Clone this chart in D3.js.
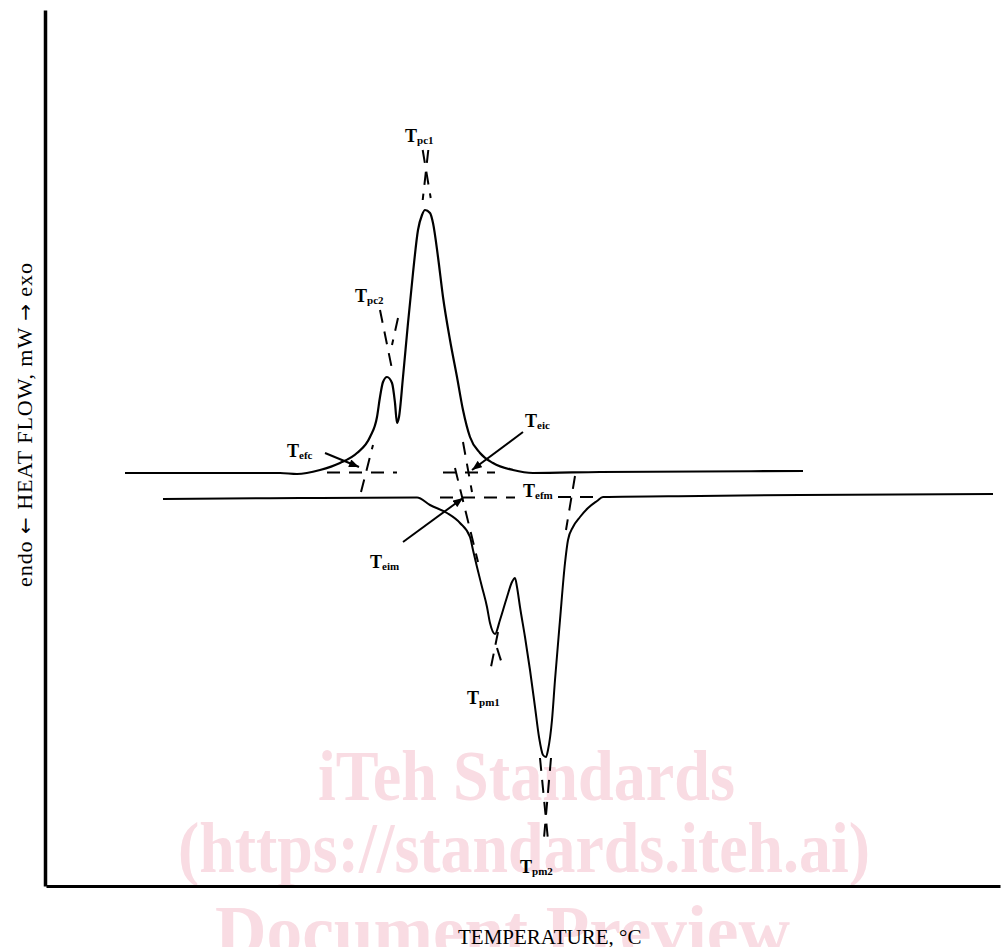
<!DOCTYPE html>
<html><head><meta charset="utf-8">
<script src="https://cdn.jsdelivr.net/npm/d3@7"></script>
<style>body{margin:0;background:#fff}svg{display:block}</style>
</head><body>
<svg id="chart" width="1004" height="947"></svg>
<script>
// ---- data (temperature units, heat-flow units; arbitrary, no tick scale shown) ----
const xDomain = [0, 95.4];
const yDomain = [-43.8, 43.8];

// cooling (crystallization, exo up)
const coolingTemp = [7.9,15.4,23.4,25.1,27.4,29.4,31.1,32.4,33.1,33.4,33.7,34.1,34.6,34.9,35.1,35.3,35.7,36.2,36.7,37.2,37.6,37.9,38.4,38.7,39.2,39.7,40.4,41.1,41.7,42.4,43.4,44.7,46.7,48.7,55.4,65.4,75.7];
const coolingFlow = [-2.5,-2.5,-2.5,-2.6,-2.2,-1.5,-0.5,1.1,3.1,5.1,6.6,7.1,6.5,4.5,2.5,3.1,7.1,12.5,17.5,21.8,23.3,23.8,23.5,22.5,19.1,15.1,10.8,7.1,3.8,1.1,-0.5,-1.5,-2.2,-2.5,-2.4,-2.35,-2.3];

// heating (melting, endo down)
const heatingTemp = [11.7,25.4,37.1,38.4,40.1,41.4,42.4,42.7,43.1,43.6,44.1,44.4,44.9,45.4,46.1,46.6,46.9,47.1,47.4,47.9,48.4,48.9,49.3,49.7,50.0,50.2,50.6,50.9,51.4,51.9,52.2,52.7,53.4,54.2,55.1,55.7,65.4,75.4,94.7];
const heatingFlow = [-5.1,-5.0,-4.95,-5.7,-6.5,-7.5,-8.9,-10.2,-11.9,-13.9,-15.9,-17.5,-18.6,-17.2,-14.9,-13.4,-13.0,-13.9,-15.9,-18.9,-22.2,-25.9,-28.9,-30.7,-30.9,-30.2,-27.2,-23.2,-17.2,-11.5,-9.2,-7.9,-6.9,-6.0,-5.3,-4.9,-4.8,-4.7,-4.6];

// construction (dashed) lines: [[t1,f1],[t2,f2]]
const constructionLines = [
  [[28.1,-2.45],[35.1,-2.45]],   // cooling baseline extension
  [[39.7,-2.45],[44.9,-2.45]],
  [[31.5,-4.4],[32.7,0.3]],      // Tefc tangent
  [[41.7,0.6],[42.6,-4.4]],      // Teic tangent
  [[33.4,13.8],[34.7,7.4]],      // Tpc2
  [[35.2,13.0],[34.6,10.3]],
  [[37.67,29.8],[38.47,25.0]],   // Tpc1
  [[38.23,29.8],[37.67,24.8]],
  [[39.4,-4.95],[46.9,-4.95]],   // heating baseline extension
  [[51.2,-4.9],[55.4,-4.9]],
  [[40.9,-2.0],[43.2,-11.4]],    // Teim tangent
  [[52.9,-2.8],[52.0,-8.2]],     // Tefm tangent
  [[45.2,-18.4],[44.5,-21.9]],   // Tpm1
  [[45.1,-20.0],[45.7,-21.9]],
  [[49.4,-31.0],[50.2,-39.2]],   // Tpm2
  [[50.5,-31.0],[49.8,-39.0]]
];

// annotation arrows: [from, tip]
const arrows = [
  [[27.9,-0.5],[31.3,-1.9]],     // Tefc
  [[47.7,1.6],[42.6,-2.2]],      // Teic
  [[35.7,-9.4],[41.7,-5.0]]      // Teim
];

// labels: main letter, subscript, anchor
const labelSubs = ["pc1","pc2","efc","eic","efm","eim","pm1","pm2"];
const labelPos = [[35.9,30.6],[30.9,14.6],[24.1,-0.9],[47.9,2.1],[47.7,-4.9],[32.4,-12.0],[42.1,-25.6],[47.4,-42.5]];

const xTitle = "TEMPERATURE, °C";
const yTitleParts = ["endo ", "←", " HEAT FLOW, mW ", "→", " exo"];
const watermark = ["iTeh Standards", "(https://standards.iteh.ai)", "Document Preview"];

// ---- drawing ----
const svg = d3.select("#chart");
const x = d3.scaleLinear().domain(xDomain).range([46, 1000]);
const y = d3.scaleLinear().domain(yDomain).range([886, 10]);

// watermark (behind)
const wm = svg.append("g").attr("fill", "#f9dce3").attr("font-family", "Liberation Serif, Times New Roman, serif").attr("font-weight", "bold");
const wmX = [318, 178, 215], wmW = [417, 692, 575], wmY = [800, 872, 955];
watermark.forEach((t, i) => {
  wm.append("text").attr("x", wmX[i]).attr("y", wmY[i]).attr("font-size", 72)
    .attr("textLength", wmW[i]).attr("lengthAdjust", "spacingAndGlyphs").text(t);
});

// axes
const xAxis = d3.axisBottom(x).tickValues([]).tickSizeOuter(0);
const yAxis = d3.axisLeft(y).tickValues([]).tickSizeOuter(0);
svg.append("g").attr("transform", `translate(0,${y.range()[0]})`).call(xAxis)
  .select(".domain").attr("stroke", "#000").attr("stroke-width", 3);
svg.append("g").attr("transform", `translate(${x.range()[0] - 1},0)`).call(yAxis)
  .select(".domain").attr("stroke", "#000").attr("stroke-width", 3.5);

const line = d3.line().x(d => x(d[0])).y(d => y(d[1])).curve(d3.curveMonotoneX);
const straight = d3.line().x(d => x(d[0])).y(d => y(d[1]));

const cooling = coolingTemp.map((t, i) => [t, coolingFlow[i]]);
const heating = heatingTemp.map((t, i) => [t, heatingFlow[i]]);

svg.append("path").datum(cooling).attr("d", line).attr("fill", "none").attr("stroke", "#000").attr("stroke-width", 2.2).attr("stroke-linejoin", "round");
svg.append("path").datum(heating).attr("d", line).attr("fill", "none").attr("stroke", "#000").attr("stroke-width", 2).attr("stroke-linejoin", "round");

svg.append("g").selectAll("path").data(constructionLines).join("path")
  .attr("d", straight).attr("fill", "none").attr("stroke", "#000").attr("stroke-width", 2)
  .attr("stroke-dasharray", "13,9");

// arrow marker
svg.append("defs").append("marker").attr("id", "ah")
  .attr("viewBox", "0 0 10 8").attr("refX", 10).attr("refY", 4)
  .attr("markerWidth", 11).attr("markerHeight", 8).attr("markerUnits", "userSpaceOnUse")
  .attr("orient", "auto").append("path").attr("d", "M0,0L10,4L0,8z").attr("fill", "#000");

svg.append("g").selectAll("path").data(arrows).join("path")
  .attr("d", straight).attr("stroke", "#000").attr("stroke-width", 2).attr("marker-end", "url(#ah)");

// labels
const lab = svg.append("g").attr("font-family", "Liberation Serif, Times New Roman, serif").attr("font-weight", "bold");
labelSubs.forEach((s, i) => {
  const t = lab.append("text").attr("x", x(labelPos[i][0])).attr("y", y(labelPos[i][1])).attr("font-size", 18);
  t.append("tspan").text("T");
  t.append("tspan").attr("font-size", 11).attr("dy", 2).text(s);
});

// axis titles
svg.append("text").attr("x", 458).attr("y", 944).attr("font-family", "Liberation Serif, Times New Roman, serif")
  .attr("font-size", 21).text(xTitle);
const yt = svg.append("text").attr("transform", "translate(32,425) rotate(-90)").attr("text-anchor", "middle")
  .attr("font-family", "Liberation Serif, Times New Roman, serif").attr("font-size", 22)
  .attr("textLength", 324).attr("lengthAdjust", "spacing");
yTitleParts.forEach((p, i) => {
  const s = yt.append("tspan").text(p);
  if (i % 2 === 1) s.attr("font-family", "DejaVu Sans").attr("font-size", 20);
});
</script>
</body></html>
